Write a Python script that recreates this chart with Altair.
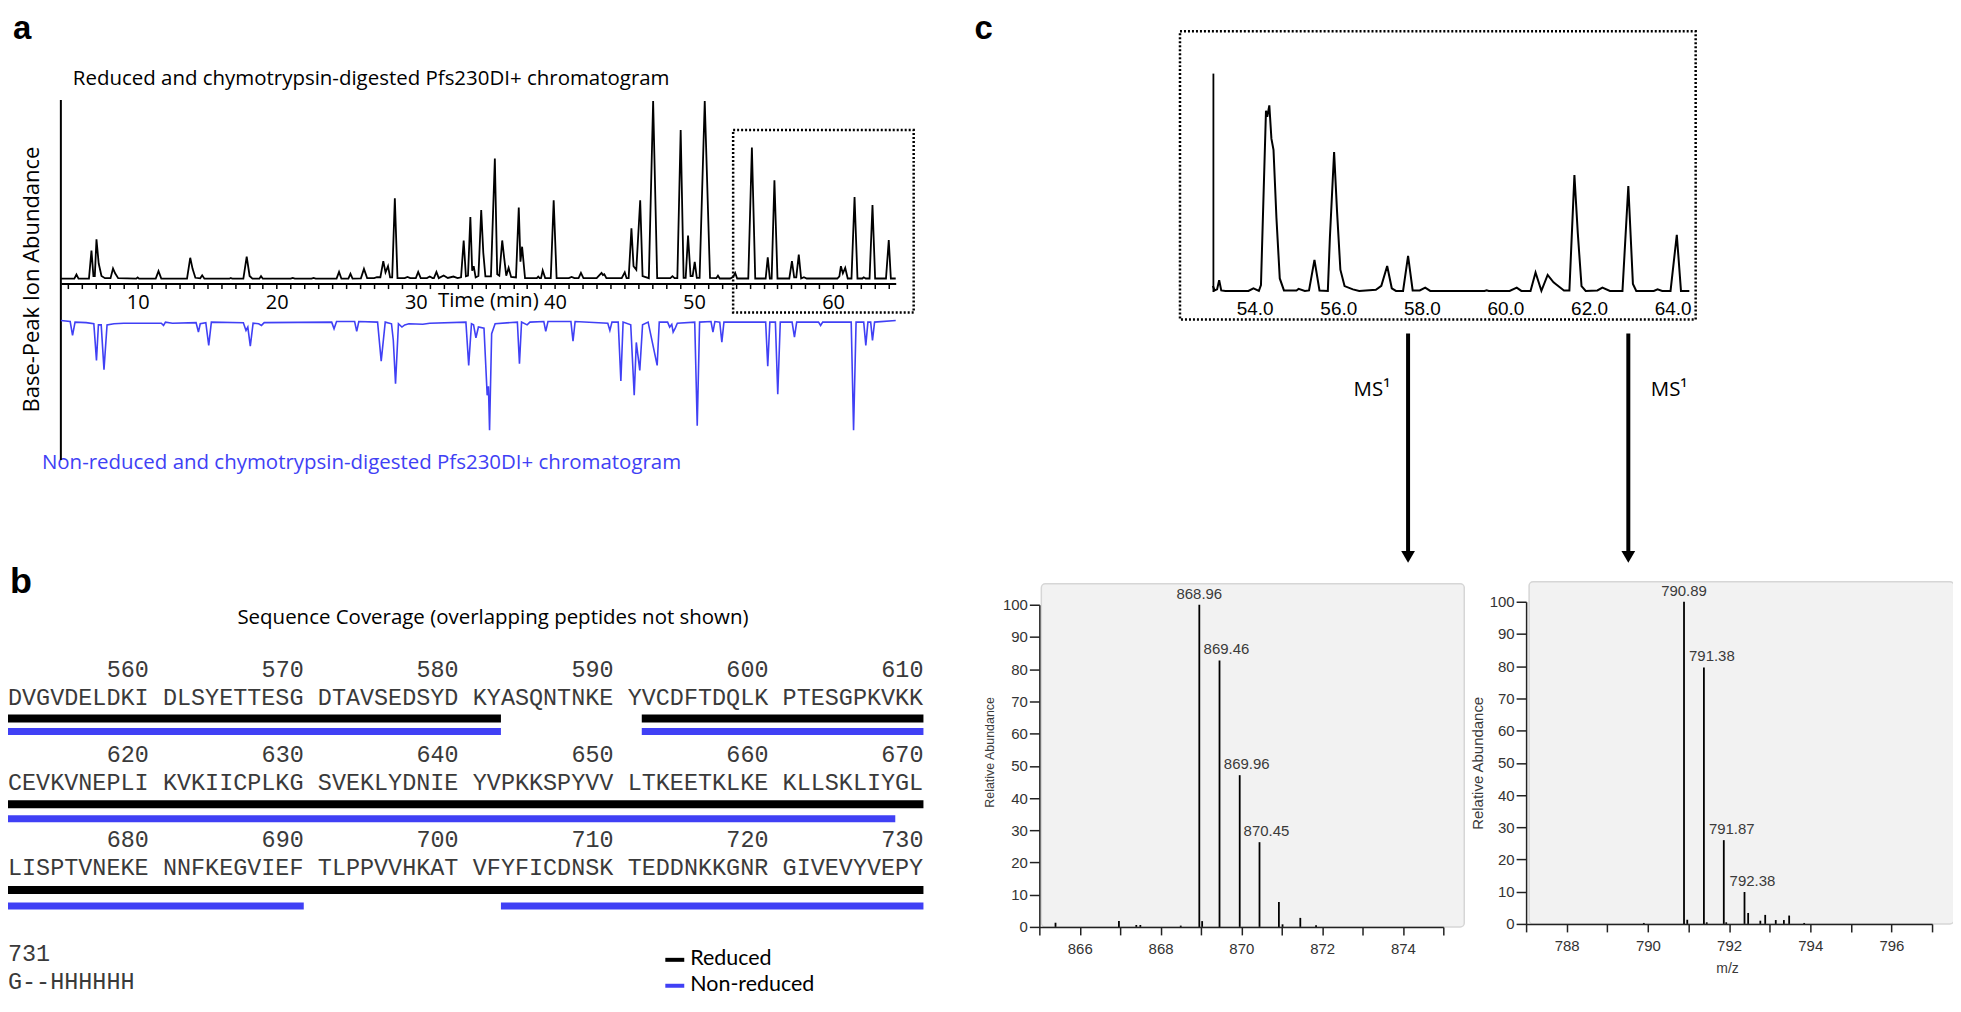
import altair as alt
import pandas as pd

W, H = 1950, 990
MARGIN = 8


def X(v):
    return v - MARGIN


def Y(v):
    return v - MARGIN


BLUE = "#4040f5"
SANS = "Open Sans"
ARIAL = "Liberation Sans"
MONO = "Liberation Mono"

# ---------------- panel a: chromatograms (time min, relative abundance) ----------------
TOP_PTS = [
    (4.48, 0.5), (5.45, 0.5), (5.6, 2.8), (5.75, 0.5), (6.5, 0.5), (6.68, 16.3), (6.82, 2), (6.92, 2),
    (7.04, 22.5), (7.2, 9), (7.4, 2), (7.65, 0.8), (8.05, 0.8), (8.23, 6.2), (8.38, 3.5), (8.6, 0.8),
    (9.9, 0.5), (10.0, 1.2), (10.1, 0.5), (11.3, 0.5), (11.5, 4.7), (11.7, 0.5), (13.55, 0.5),
    (13.78, 12.2), (13.95, 6), (14.15, 1), (14.5, 0.7), (14.64, 2.4), (14.8, 0.5), (16.6, 0.5),
    (16.7, 0.9), (16.8, 0.5), (17.6, 0.5), (17.84, 12.9), (18.05, 2), (18.25, 0.5), (18.75, 0.5),
    (18.87, 1.9), (19.0, 0.5), (21.0, 0.5), (21.15, 0.9), (21.3, 0.5), (22.5, 0.5), (22.65, 0.9),
    (22.8, 0.5), (24.3, 0.5), (24.48, 4.3), (24.65, 0.5), (25.15, 0.5), (25.3, 3.2), (25.45, 0.5),
    (26.05, 0.7), (26.27, 6), (26.5, 0.8), (27.0, 0.8), (27.2, 1.3), (27.45, 1.3), (27.66, 10.3),
    (27.82, 4), (28.0, 7.5), (28.15, 1.2), (28.3, 1.2), (28.49, 45.5), (28.68, 0.8), (29.2, 0.8),
    (29.4, 1.5), (29.6, 0.8), (30.0, 0.8), (30.17, 4.3), (30.35, 0.8), (30.8, 0.8), (31.0, 1.7),
    (31.2, 0.8), (31.3, 0.8), (31.48, 4.3), (31.65, 0.8), (32.0, 2.3), (32.3, 0.9), (32.7, 1.7),
    (33.0, 0.8), (33.25, 1.3), (33.44, 21.9), (33.6, 1.8), (33.75, 2.2), (33.92, 35), (34.05, 5),
    (34.16, 7.5), (34.3, 1.2), (34.5, 2), (34.7, 38.9), (34.85, 15), (35.0, 1.8), (35.4, 1.8),
    (35.68, 67.8), (35.85, 3), (36.0, 2.2), (36.21, 21.9), (36.35, 12.2), (36.5, 2.2), (36.67, 6.6),
    (36.85, 1.5), (37.2, 1.2), (37.4, 40.3), (37.52, 10), (37.64, 18.4), (37.85, 0.8), (38.7, 0.8),
    (38.8, 1.7), (38.9, 0.8), (39.0, 0.8), (39.12, 5.1), (39.3, 0.8), (39.7, 0.8), (39.91, 44.4),
    (40.12, 0.8), (41.0, 0.8), (41.2, 1.5), (41.4, 0.8), (41.7, 0.8), (41.87, 3.7), (42.05, 0.8),
    (43.0, 0.8), (43.2, 2.5), (43.35, 3.7), (43.45, 2.5), (43.55, 3), (43.7, 0.8), (44.8, 0.8),
    (45.02, 4.1), (45.15, 0.8), (45.3, 0.8), (45.5, 28.7), (45.65, 7.5), (45.85, 5.5), (46.13, 44.4),
    (46.3, 2), (46.75, 0.8), (47.06, 100), (47.35, 0.8), (48.3, 0.8), (48.45, 1.9), (48.6, 0.8),
    (48.8, 0.8), (49.04, 83.7), (49.25, 1), (49.4, 1), (49.57, 24.7), (49.75, 2), (49.9, 2),
    (50.05, 9.9), (50.2, 1), (50.4, 1), (50.77, 100), (51.15, 1), (51.6, 0.8), (51.72, 2.2),
    (51.85, 0.6), (52.6, 0.6), (52.8, 1.4), (52.96, 3.7), (53.1, 0.6), (53.9, 0.6), (54.16, 74),
    (54.4, 0.6), (55.15, 0.6), (55.3, 12.5), (55.45, 0.6), (55.58, 0.6), (55.78, 55.6), (56.0, 0.6),
    (56.85, 0.6), (57.04, 10.3), (57.2, 1.2), (57.35, 1.2), (57.53, 14), (57.7, 0.6), (57.9, 1.3),
    (58.1, 0.6), (60.3, 0.6), (60.45, 1.8), (60.56, 7.5), (60.7, 3.5), (60.87, 6.6), (61.05, 0.6),
    (61.32, 0.6), (61.54, 46.3), (61.75, 0.6), (62.1, 0.6), (62.2, 1.3), (62.35, 0.6), (62.62, 0.6),
    (62.83, 41.8), (63.02, 0.6), (63.8, 0.6), (64.0, 22.1), (64.15, 0.6), (64.5, 0.6),
]
BLUE_PTS = [
    (4.48, 0), (5.15, 1), (5.32, 13.6), (5.5, 1.5), (6.3, 2), (6.85, 3), (7.04, 36.4), (7.18, 4),
    (7.38, 4), (7.58, 44.8), (7.8, 4), (8.3, 3), (9.0, 2.5), (11.7, 2.5), (11.86, 4.5), (12.0, 1.5),
    (12.5, 2.5), (14.2, 2), (14.37, 10.6), (14.5, 3), (14.9, 2), (15.11, 22.7), (15.3, 1.5),
    (17.6, 2), (17.79, 9.1), (17.92, 6), (18.1, 23.3), (18.3, 2.5), (18.7, 3), (18.9, 4.5),
    (19.1, 2), (23.95, 1.5), (24.12, 7.6), (24.3, 1), (25.6, 1), (25.75, 10), (25.9, 1),
    (27.25, 1.5), (27.51, 37), (27.8, 1.5), (28.25, 3), (28.38, 18), (28.54, 57.6), (28.75, 3),
    (29.0, 6), (29.2, 4), (29.5, 3), (30.5, 3.5), (31.0, 2.5), (33.6, 1.5), (33.8, 40.9), (34.0, 3),
    (34.15, 4), (34.32, 15.8), (34.5, 6), (34.9, 7), (35.13, 68.2), (35.22, 60), (35.3, 100),
    (35.45, 12), (35.7, 3), (37.3, 1.5), (37.45, 39.4), (37.6, 1.5), (38.0, 4), (38.2, 1.5),
    (39.2, 1), (39.34, 10), (39.5, 1), (41.15, 1), (41.3, 18.8), (41.45, 1), (43.8, 2.5),
    (43.95, 9.1), (44.1, 1.5), (44.55, 1.5), (44.74, 55.2), (44.9, 1.5), (45.45, 4), (45.7, 68.2),
    (45.85, 20), (46.1, 45.5), (46.3, 4), (46.7, 1.5), (47.35, 40.9), (47.5, 1.5), (48.1, 1.5),
    (48.25, 6), (48.4, 3.5), (48.5, 10.6), (48.65, 7), (48.8, 2.5), (50.05, 1.5), (50.23, 96),
    (50.4, 1.5), (51.22, 1), (51.36, 10.6), (51.5, 1), (51.85, 1.5), (52.0, 19.7), (52.15, 1.5),
    (55.15, 1.5), (55.3, 41.8), (55.45, 1.5), (55.85, 1.5), (56.02, 67.3), (56.2, 1.5),
    (57.05, 1.5), (57.22, 15.2), (57.38, 1.5), (58.95, 1.5), (59.1, 4.5), (59.25, 1.5),
    (61.3, 1.5), (61.47, 100), (61.65, 1.5), (62.2, 1.5), (62.35, 22.7), (62.5, 1.5), (62.7, 1.5),
    (62.83, 18.2), (62.98, 1.5), (64.5, 0),
]
A_TICKS = list(range(5, 65))

# ---------------- panel c: zoomed chromatogram 53-64 min ----------------
INSET_PTS = [
    (53.0, 2.6), (53.04, 0.5), (53.1, 1), (53.15, 5.2), (53.2, 0.5), (53.3, 0.3), (53.85, 0.3),
    (53.97, 1.5), (54.1, 0.3), (54.15, 3), (54.27, 82.8), (54.3, 80), (54.35, 85.2), (54.4, 70),
    (54.45, 64.9), (54.52, 33.8), (54.6, 6), (54.7, 0.5), (55.0, 0.5), (55.05, 1.2), (55.2, 0.3),
    (55.3, 0.5), (55.43, 14.5), (55.55, 0.5), (55.75, 0.3), (55.8, 25), (55.9, 63.9), (55.97, 36.8),
    (56.05, 10), (56.15, 2.5), (56.35, 1), (56.5, 0.3), (56.9, 0.8), (57.03, 2.6), (57.17, 11.7),
    (57.28, 1.5), (57.38, 0.3), (57.55, 0.3), (57.67, 16.3), (57.78, 0.5), (57.95, 0.5),
    (58.08, 1.8), (58.2, 0.3), (59.5, 0.3), (59.55, 0.6), (59.6, 0.3), (60.1, 0.3), (60.27, 1.8),
    (60.38, 0.3), (60.6, 0.3), (60.72, 8.7), (60.86, 0.3), (61.01, 7.6), (61.15, 4.2), (61.3, 2),
    (61.4, 0.5), (61.53, 0.5), (61.65, 53.3), (61.73, 27), (61.82, 2.5), (61.92, 0.3), (62.2, 0.5),
    (62.32, 1.8), (62.5, 0.3), (62.8, 0.3), (62.94, 48.3), (63.05, 3.5), (63.13, 0.3), (63.55, 0.3),
    (63.64, 1), (63.75, 0.3), (63.95, 0.3), (64.1, 26), (64.2, 0.3), (64.4, 0.3),
]
INSET_TICKS = [54, 56, 58, 60, 62, 64]
ARROW_T = [57.67, 62.94]

# ---------------- panel c: MS1 spectra ----------------
SPEC1_MZ = [865.4, 866.97, 867.4, 867.5, 868.5, 868.96, 869.03, 869.46, 869.96, 870.45, 870.93,
            871.02, 871.46, 871.85]
SPEC1_V = [1.3, 1.8, 0.6, 0.6, 0.4, 100, 1.8, 82.7, 47.1, 26.3, 7.7, 0.8, 2.8, 0.5]
SPEC1_LAB = ["868.96", "869.46", "869.96", "870.45"]
SPEC1_LAB_MZ = [868.96, 869.46, 869.96, 870.45]
SPEC1_LAB_V = [100, 82.7, 47.1, 26.3]

SPEC2_MZ = [789.9, 790.89, 790.97, 791.38, 791.45, 791.87, 791.93, 792.38, 792.47, 792.77, 792.89,
            793.15, 793.35, 793.48, 793.85]
SPEC2_V = [0.3, 100, 1.3, 79.6, 0.5, 26.0, 0.5, 9.9, 3.4, 1.0, 2.8, 1.2, 1.2, 2.6, 0.3]
SPEC2_LAB = ["790.89", "791.38", "791.87", "792.38"]
SPEC2_LAB_MZ = [790.89, 791.38, 791.87, 792.38]
SPEC2_LAB_V = [100, 79.6, 26.0, 9.9]

# ---------------- panel b: sequence coverage ----------------
SEQ_ROWS = [
    ["DVGVDELDKI", "DLSYETTESG", "DTAVSEDSYD", "KYASQNTNKE", "YVCDFTDQLK", "PTESGPKVKK"],
    ["CEVKVNEPLI", "KVKIICPLKG", "SVEKLYDNIE", "YVPKKSPYVV", "LTKEETKLKE", "KLLSKLIYGL"],
    ["LISPTVNEKE", "NNFKEGVIEF", "TLPPVVHKAT", "VFYFICDNSK", "TEDDNKKGNR", "GIVEVYVEPY"],
]
ROW_START = [551, 611, 671]
LAST_NUM = "731"
LAST_SEQ = "G--HHHHHH"
REDUCED = [(551, 582), (592, 730)]
NONREDUCED = [(551, 582), (592, 668), (671, 690), (703, 730)]

TITLE_A = "Reduced and chymotrypsin-digested Pfs230DI+ chromatogram"
TITLE_A2 = "Non-reduced and chymotrypsin-digested Pfs230DI+ chromatogram"
TITLE_B = "Sequence Coverage (overlapping peptides not shown)"

# ---------------------------------------------------------------------------
ONE = pd.DataFrame({"s": [0]})


def text(s, x, y, size=20.5, font=SANS, color="black", align="left", baseline="middle",
         weight="normal", angle=0):
    kw = dict(align=align, baseline=baseline, font=font, fontSize=size, color=color,
              fontWeight=weight)
    if angle:
        kw["angle"] = angle
    return alt.Chart(pd.DataFrame({"s": [s]})).mark_text(**kw).encode(
        text="s:N", x=alt.value(X(x)), y=alt.value(Y(y)))


def rect(x0, x1, y0, y1, **kw):
    return alt.Chart(ONE).mark_rect(**kw).encode(
        x=alt.value(X(x0)), x2=alt.value(X(x1)), y=alt.value(Y(y0)), y2=alt.value(Y(y1)))


def hrule(x0, x1, y, **kw):
    return alt.Chart(ONE).mark_rule(**kw).encode(
        x=alt.value(X(x0)), x2=alt.value(X(x1)), y=alt.value(Y(y)))


def vrule(x, y0, y1, **kw):
    return alt.Chart(ONE).mark_rule(**kw).encode(
        x=alt.value(X(x)), y=alt.value(Y(y0)), y2=alt.value(Y(y1)))


layers = []

# ======================= panel a =======================
top_df = pd.DataFrame(TOP_PTS, columns=["t", "v"])
blue_df = pd.DataFrame(BLUE_PTS, columns=["t", "v"])
xa = alt.Scale(domain=[4.48, 64.5], range=[X(61), X(898)], nice=False, zero=False)

top_line = alt.Chart(top_df).mark_line(color="black", strokeWidth=1.8).encode(
    x=alt.X("t:Q", scale=xa, axis=alt.Axis(
        orient="bottom", offset=Y(283) - H, values=A_TICKS,
        labelExpr="datum.value % 10 === 0 ? datum.label : ''",
        tickSize=5, tickWidth=1.5, tickColor="black", domainColor="black", domainWidth=2,
        labelFont=SANS, labelFontSize=20, labelColor="black", labelPadding=4,
        labelOverlap=False, labelFlush=False, grid=False, title=None, zindex=2)),
    y=alt.Y("v:Q", scale=alt.Scale(domain=[0, 100], range=[Y(279), Y(100)], nice=False, zero=False),
            axis=None),
)
blue_line = alt.Chart(blue_df).mark_line(color=BLUE, strokeWidth=1.6).encode(
    x=alt.X("t:Q", scale=xa, axis=None),
    y=alt.Y("v:Q", scale=alt.Scale(domain=[0, 100], range=[Y(320), Y(430)], nice=False, zero=False),
            axis=None),
)
layers += [
    text("a", 13, 38, size=33, font=ARIAL, weight="bold", baseline="alphabetic"),
    text(TITLE_A, 73, 78),
    text(TITLE_A2, 42, 463, color=BLUE),
    text("Base-Peak Ion Abundance", 32, 279, size=22, align="center", angle=270),
    text("Time (min)", 439, 300),
    vrule(61, 99, 460, color="black", strokeWidth=2),
    rect(735, 916, 129, 312, fillOpacity=0, stroke="black", strokeWidth=2.5, strokeDash=[2, 2]),
    top_line,
    blue_line,
]

# ======================= panel b =======================
CW = 14.12
col_scale = alt.Scale(domain=[0, 65], range=[X(8), X(8) + 65 * CW], nice=False, zero=False)
seq_recs = []
for r, groups in enumerate(SEQ_ROWS):
    for g, s in enumerate(groups):
        seq_recs.append({"row": r, "col": g * 11, "endcol": g * 11 + 10, "seq": s,
                         "num": str(ROW_START[r] + 10 * g + 9)})
seq_df = pd.DataFrame(seq_recs)


def split_cov(ranges):
    out = []
    for a, b in ranges:
        for r, rs in enumerate(ROW_START):
            lo, hi = max(a, rs), min(b, rs + 59)
            if lo <= hi:
                i0, i1 = lo - rs, hi - rs
                out.append({"row": r, "c0": i0 + i0 // 10, "c1": i1 + i1 // 10 + 1})
    return pd.DataFrame(out)


def row_scale(y0, y2):
    return alt.Scale(domain=[0, 2], range=[Y(y0), Y(y2)], nice=False, zero=False)


SEQ_COLOR = "#3a3a3a"
nums = alt.Chart(seq_df).mark_text(align="right", baseline="middle", font=MONO, fontSize=23.5,
                                   color=SEQ_COLOR).encode(
    x=alt.X("endcol:Q", scale=col_scale, axis=None),
    y=alt.Y("row:Q", scale=row_scale(670, 841), axis=None),
    text="num:N")
seqs = alt.Chart(seq_df).mark_text(align="left", baseline="middle", font=MONO, fontSize=23.5,
                                   color=SEQ_COLOR).encode(
    x=alt.X("col:Q", scale=col_scale, axis=None),
    y=alt.Y("row:Q", scale=row_scale(699, 869), axis=None),
    text="seq:N")
red_bars = alt.Chart(split_cov(REDUCED)).mark_rule(color="black", strokeWidth=8, strokeCap="butt").encode(
    x=alt.X("c0:Q", scale=col_scale, axis=None), x2="c1:Q",
    y=alt.Y("row:Q", scale=row_scale(719, 891), axis=None))
nr_bars = alt.Chart(split_cov(NONREDUCED)).mark_rule(color=BLUE, strokeWidth=7, strokeCap="butt").encode(
    x=alt.X("c0:Q", scale=col_scale, axis=None), x2="c1:Q",
    y=alt.Y("row:Q", scale=row_scale(732, 907), axis=None))

layers += [
    text("b", 10, 593, size=36, font=ARIAL, weight="bold", baseline="alphabetic"),
    text(TITLE_B, 238, 618),
    nums, seqs, red_bars, nr_bars,
    text(LAST_NUM, 8, 955, size=23.5, font=MONO, color=SEQ_COLOR),
    text(LAST_SEQ, 8, 983, size=23.5, font=MONO, color=SEQ_COLOR),
    hrule(667, 686, 961, color="black", strokeWidth=4),
    hrule(667, 686, 987, color=BLUE, strokeWidth=4),
    text("Reduced", 692, 960, size=21.5, font="Lato"),
    text("Non-reduced", 692, 986, size=21.5, font="Lato"),
]

# ======================= panel c: inset =======================
inset_df = pd.DataFrame(INSET_PTS, columns=["t", "v"])
xi = alt.Scale(domain=[53.0, 64.4], range=[X(1216), X(1216 + 11.4 * 41.9)], nice=False, zero=False)
yi = alt.Scale(domain=[0, 100], range=[Y(291), Y(72)], nice=False, zero=False)
inset_line = alt.Chart(inset_df).mark_line(color="black", strokeWidth=2).encode(
    x=alt.X("t:Q", scale=xi, axis=alt.Axis(
        orient="bottom", offset=Y(291) - H, values=INSET_TICKS, format=".1f", domain=False,
        ticks=False, tickSize=0, labelFont=ARIAL, labelFontSize=19, labelColor="black",
        labelPadding=8, labelOverlap=False, grid=False, title=None, zindex=2)),
    y=alt.Y("v:Q", scale=yi, axis=alt.Axis(
        orient="left", offset=-X(1216), domain=True, domainColor="black", domainWidth=1.8,
        ticks=False, tickSize=0, labels=False, grid=False, title=None, zindex=2)),
)
arrow_df = pd.DataFrame({"t": ARROW_T})
arrow_shaft = alt.Chart(arrow_df).mark_rule(color="black", strokeWidth=4).encode(
    x=alt.X("t:Q", scale=xi), y=alt.value(Y(333)), y2=alt.value(Y(552)))
arrow_head = alt.Chart(arrow_df).mark_point(shape="triangle-down", filled=True, color="black",
                                            size=190, opacity=1, strokeWidth=0).encode(
    x=alt.X("t:Q", scale=xi), y=alt.value(Y(557)))

layers += [
    text("c", 977, 38, size=33, font=ARIAL, weight="bold", baseline="alphabetic"),
    rect(1183, 1700, 30, 319, fillOpacity=0, stroke="black", strokeWidth=2.5, strokeDash=[2, 2]),
    alt.layer(inset_line, arrow_shaft, arrow_head),
    text("MS\u00b9", 1357, 390),
    text("MS\u00b9", 1655, 390),
    rect(1044, 1468, 584, 928, fill="#f2f2f2", stroke="#d6d6d6", strokeWidth=1.5, cornerRadius=4),
    rect(1533, 1959, 582, 925, fill="#f2f2f2", stroke="#d6d6d6", strokeWidth=1.5, cornerRadius=4),
]


def spectrum(mz, v, lab, lab_mz, lab_v, dom, x0, x1, y0, y100, dx_other):
    xs = alt.Scale(domain=dom, range=[X(x0), X(x1)], nice=False, zero=False)
    ys = alt.Scale(domain=[0, 100], range=[Y(y0), Y(y100)], nice=False, zero=False)
    xticks = [dom[0] + 0.5 * i for i in range(int((dom[1] - dom[0]) * 2) + 1)]
    xaxis = alt.Axis(
        orient="bottom", offset=Y(y0) - H, values=xticks, format="d",
        labelExpr="datum.value % 2 === 0 ? datum.label : ''",
        tickSize=8, tickWidth=1.5, tickColor="#222222", domainColor="#222222", domainWidth=1.5,
        labelFont=ARIAL, labelFontSize=15, labelColor="#333333", labelPadding=7,
        labelOverlap=False, labelFlush=False, grid=False, title=None, zindex=2)
    yaxis = alt.Axis(
        orient="left", offset=-X(x0), values=list(range(0, 101, 10)),
        tickSize=10, tickWidth=1.5, tickColor="#222222", domainColor="#222222", domainWidth=1.5,
        labelFont=ARIAL, labelFontSize=15, labelColor="#333333", labelPadding=2,
        labelOverlap=False, grid=False, title=None, zindex=2)
    stick_df = pd.DataFrame({"mz": mz, "v": v, "z": [0] * len(mz)})
    sticks = alt.Chart(stick_df).mark_rule(color="black", strokeWidth=1.8).encode(
        x=alt.X("mz:Q", scale=xs, axis=xaxis),
        y=alt.Y("v:Q", scale=ys, axis=yaxis),
        y2="z:Q",
    )
    lab_df = pd.DataFrame({"mz": lab_mz, "v": lab_v, "s": lab})
    base = alt.Chart(lab_df.iloc[:1]).mark_text(font=ARIAL, fontSize=15, color="#3a3a3a",
                                                 baseline="middle", dy=-11).encode(
        x=alt.X("mz:Q", scale=xs, axis=xaxis), y=alt.Y("v:Q", scale=ys, axis=yaxis), text="s:N")
    others = alt.Chart(lab_df.iloc[1:]).mark_text(font=ARIAL, fontSize=15, color="#3a3a3a",
                                                   baseline="middle", dy=-11, dx=dx_other).encode(
        x=alt.X("mz:Q", scale=xs, axis=xaxis), y=alt.Y("v:Q", scale=ys, axis=yaxis), text="s:N")
    return alt.layer(sticks, base, others)


layers += [
    spectrum(SPEC1_MZ, SPEC1_V, SPEC1_LAB, SPEC1_LAB_MZ, SPEC1_LAB_V, [865, 875],
             1042, 1447, 928, 605, 7),
    spectrum(SPEC2_MZ, SPEC2_V, SPEC2_LAB, SPEC2_LAB_MZ, SPEC2_LAB_V, [787, 797],
             1530, 1937, 925, 602, 8),
    text("Relative Abundance", 993, 753, size=12.5, font=ARIAL, color="#3a3a3a", align="center",
         angle=270),
    text("Relative Abundance", 1482, 764, size=15, font=ARIAL, color="#3a3a3a", align="center",
         angle=270),
    text("m/z", 1732, 970, size=14, font=ARIAL, color="#3a3a3a", align="center"),
]

chart = (
    alt.layer(*layers)
    .resolve_scale(x="independent", y="independent")
    .properties(width=W, height=H, padding=0, background="white",
                autosize=alt.AutoSizeParams(type="none"))
    .configure_view(stroke=None)
)

chart.save("out.html", embed_options={"renderer": "svg", "actions": False})
